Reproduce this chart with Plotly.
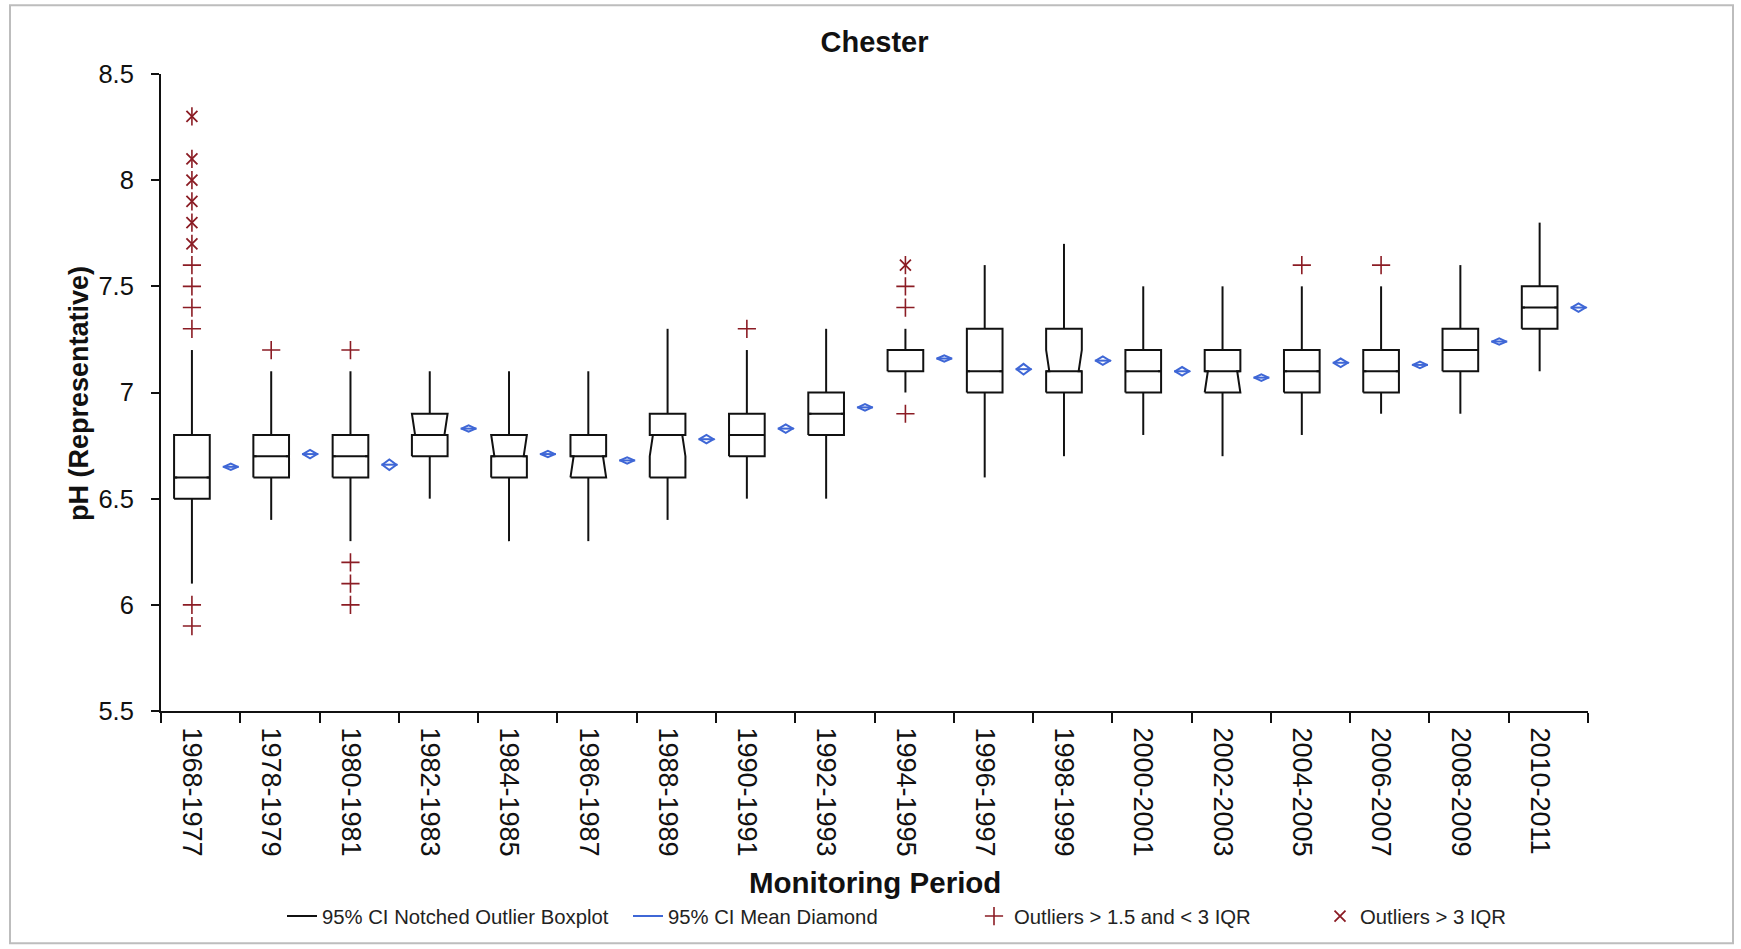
import plotly.graph_objects as go

# ---------------- data ----------------
periods = ["1968-1977", "1978-1979", "1980-1981", "1982-1983", "1984-1985", "1986-1987",
           "1988-1989", "1990-1991", "1992-1993", "1994-1995", "1996-1997", "1998-1999",
           "2000-2001", "2002-2003", "2004-2005", "2006-2007", "2008-2009", "2010-2011"]

q1 = [6.5, 6.6, 6.6, 6.7, 6.6, 6.6, 6.6, 6.7, 6.8, 7.1, 7.0, 7.0, 7.0, 7.0, 7.0, 7.0, 7.1, 7.3]
median = [6.6, 6.7, 6.7, 6.8, 6.7, 6.7, 6.8, 6.8, 6.9, 7.2, 7.1, 7.1, 7.1, 7.1, 7.1, 7.1, 7.2, 7.4]
q3 = [6.8, 6.8, 6.8, 6.8, 6.8, 6.8, 6.9, 6.9, 7.0, 7.2, 7.3, 7.3, 7.2, 7.2, 7.2, 7.2, 7.3, 7.5]
notch_lo = [6.6, 6.7, 6.7, 6.8, 6.7, 6.6, 6.7, 6.8, 6.9, 7.2, 7.1, 7.1, 7.1, 7.0, 7.1, 7.1, 7.2, 7.4]
notch_hi = [6.6, 6.7, 6.7, 6.9, 6.8, 6.7, 6.8, 6.8, 6.9, 7.2, 7.1, 7.2, 7.1, 7.1, 7.1, 7.1, 7.2, 7.4]
whisker_lo = [6.1, 6.4, 6.3, 6.5, 6.3, 6.3, 6.4, 6.5, 6.5, 7.0, 6.6, 6.7, 6.8, 6.7, 6.8, 6.9, 6.9, 7.1]
whisker_hi = [7.2, 7.1, 7.1, 7.1, 7.1, 7.1, 7.3, 7.2, 7.3, 7.3, 7.6, 7.7, 7.5, 7.5, 7.5, 7.5, 7.6, 7.8]

means = [6.65, 6.71, 6.66, 6.83, 6.71, 6.68, 6.78, 6.83, 6.93, 7.16, 7.11, 7.15, 7.10, 7.07, 7.14, 7.13, 7.24, 7.40]
mean_ci = [0.015, 0.02, 0.025, 0.015, 0.015, 0.015, 0.02, 0.02, 0.015, 0.015, 0.025, 0.02, 0.02, 0.015, 0.02, 0.015, 0.015, 0.02]

mild_period = ["1968-1977"] * 6 + ["1978-1979"] + ["1980-1981"] * 4 + ["1990-1991"] + ["1994-1995"] * 3 + ["2004-2005", "2006-2007"]
mild_value = [5.9, 6.0, 7.3, 7.4, 7.5, 7.6, 7.2, 6.0, 6.1, 6.2, 7.2, 7.3, 6.9, 7.4, 7.5, 7.6, 7.6]

extreme_period = ["1968-1977"] * 6 + ["1994-1995"]
extreme_value = [7.7, 7.8, 7.9, 8.0, 8.1, 8.3, 7.6]

y_ticks = [5.5, 6, 6.5, 7, 7.5, 8, 8.5]

# ---------------- geometry helpers (styling only) ----------------
BOX_OFF, MEAN_OFF = 0.39, 0.88
HW, NOTCH = 0.225, 0.04
DW = 0.09
idx = {p: i for i, p in enumerate(periods)}

bx, by = [], []
for i in range(len(periods)):
    c = i + BOX_OFF
    lo = min(q1[i], notch_lo[i])
    hi = max(q3[i], notch_hi[i])
    L, R = c - HW, c + HW
    # notched box outline
    bx += [L, L, L + NOTCH, L, L, R, R, R - NOTCH, R, R, L, None]
    by += [lo, notch_lo[i], median[i], notch_hi[i], hi, hi, notch_hi[i], median[i], notch_lo[i], lo, lo, None]
    # median line
    bx += [L, R, None]
    by += [median[i], median[i], None]
    # whiskers
    bx += [c, c, None, c, c, None]
    by += [whisker_lo[i], lo, None, hi, whisker_hi[i], None]

mx, my = [], []
for i in range(len(periods)):
    d = i + MEAN_OFF
    m, h = means[i], mean_ci[i]
    mx += [d - DW, d, d + DW, d, d - DW, None, d - DW - 0.012, d + DW + 0.012, None]
    my += [m, m + h, m, m - h, m, None, m, m, None]

FONT = "Liberation Sans, Arial, sans-serif"
RED = "#8B1C24"
BLUE = "#3F67D6"
W, H = 1741, 949
PL, PR, PT, PB = 161, 1588, 74, 713   # plot-area pixel box
PW, PH = PR - PL, PB - PT


def px_x(p):
    return (p - PL) / PW


def px_y(p):
    return (PB - p) / PH


fig = go.Figure()
fig.add_trace(go.Scatter(x=bx, y=by, mode="lines", name="95% CI Notched Outlier Boxplot",
                         line=dict(color="#111111", width=2), hoverinfo="skip"))
fig.add_trace(go.Scatter(x=mx, y=my, mode="lines", name="95% CI Mean Diamond",
                         line=dict(color=BLUE, width=2), hoverinfo="skip"))
fig.add_trace(go.Scatter(x=[idx[p] + BOX_OFF for p in mild_period], y=mild_value, mode="markers",
                         name="Outliers > 1.5 and < 3 IQR",
                         marker=dict(symbol="cross-thin-open", size=13, line=dict(color=RED, width=1.6), color=RED)))
fig.add_trace(go.Scatter(x=[idx[p] + BOX_OFF for p in extreme_period], y=extreme_value, mode="markers",
                         name="Outliers > 3 IQR",
                         marker=dict(symbol="x-thin-open", size=11, line=dict(color=RED, width=1.8), color=RED)))
fig.add_trace(go.Scatter(x=[idx[p] + BOX_OFF for p in extreme_period], y=extreme_value, mode="markers",
                         showlegend=False,
                         marker=dict(symbol="line-ns-open", size=13, line=dict(color=RED, width=1.6), color=RED)))

fig.update_layout(
    width=W, height=H,
    margin=dict(l=PL, r=W - PR, t=PT, b=H - PB),
    paper_bgcolor="white", plot_bgcolor="white",
    font=dict(family=FONT, color="#111111"),
    title=dict(text="<b>Chester</b>", x=0.5, xref="paper", xanchor="center",
               y=1 - 42 / H, yanchor="middle", font=dict(size=29, color="#111111")),
    showlegend=True,
    legend=dict(orientation="h", x=px_x(282), xanchor="left", y=px_y(919), yanchor="middle",
                font=dict(size=20.3, color="#222222"), entrywidth=301, entrywidthmode="pixels",
                bgcolor="rgba(0,0,0,0)"),
)

fig.update_xaxes(range=[0, len(periods)], tickmode="array",
                 tickvals=[i + BOX_OFF for i in range(len(periods))], ticktext=periods,
                 tickangle=90, ticks="", showgrid=False, zeroline=False,
                 showline=True, linecolor="#111111", linewidth=2,
                 tickfont=dict(size=27, family=FONT, color="#111111"), ticklabelstandoff=9,
                 minor=dict(tickmode="array", tickvals=list(range(len(periods) + 1)),
                            ticks="outside", ticklen=10, tickwidth=1.5, tickcolor="#111111", showgrid=False))
fig.update_yaxes(range=[5.5, 8.5], tickmode="array", tickvals=y_ticks,
                 ticktext=[f"{v:g}" for v in y_ticks],
                 ticks="outside", ticklen=8, tickwidth=1.5, tickcolor="#111111",
                 showgrid=False, zeroline=False, showline=True, linecolor="#111111", linewidth=2,
                 tickfont=dict(size=25.5, family=FONT, color="#111111"), ticklabelstandoff=12)

fig.add_annotation(text="<b>pH (Representative)</b>", textangle=-90, xref="paper", yref="paper",
                   x=px_x(79), y=px_y(395), xanchor="center", yanchor="middle",
                   showarrow=False, font=dict(size=27, family=FONT, color="#111111"))
fig.add_annotation(text="<b>Monitoring Period</b>", xref="paper", yref="paper",
                   x=0.5, y=px_y(885), xanchor="center", yanchor="middle",
                   showarrow=False, font=dict(size=29.5, family=FONT, color="#111111"))

# outer light-grey frame around the chart
fig.add_shape(type="rect", xref="paper", yref="paper",
              x0=px_x(10), x1=px_x(1733), y0=px_y(946), y1=px_y(5),
              line=dict(color="#BDBDBD", width=2), fillcolor="rgba(0,0,0,0)", layer="below")

fig.write_html("out.html", config={"displayModeBar": False},
               post_script="document.body.style.margin='0';")
